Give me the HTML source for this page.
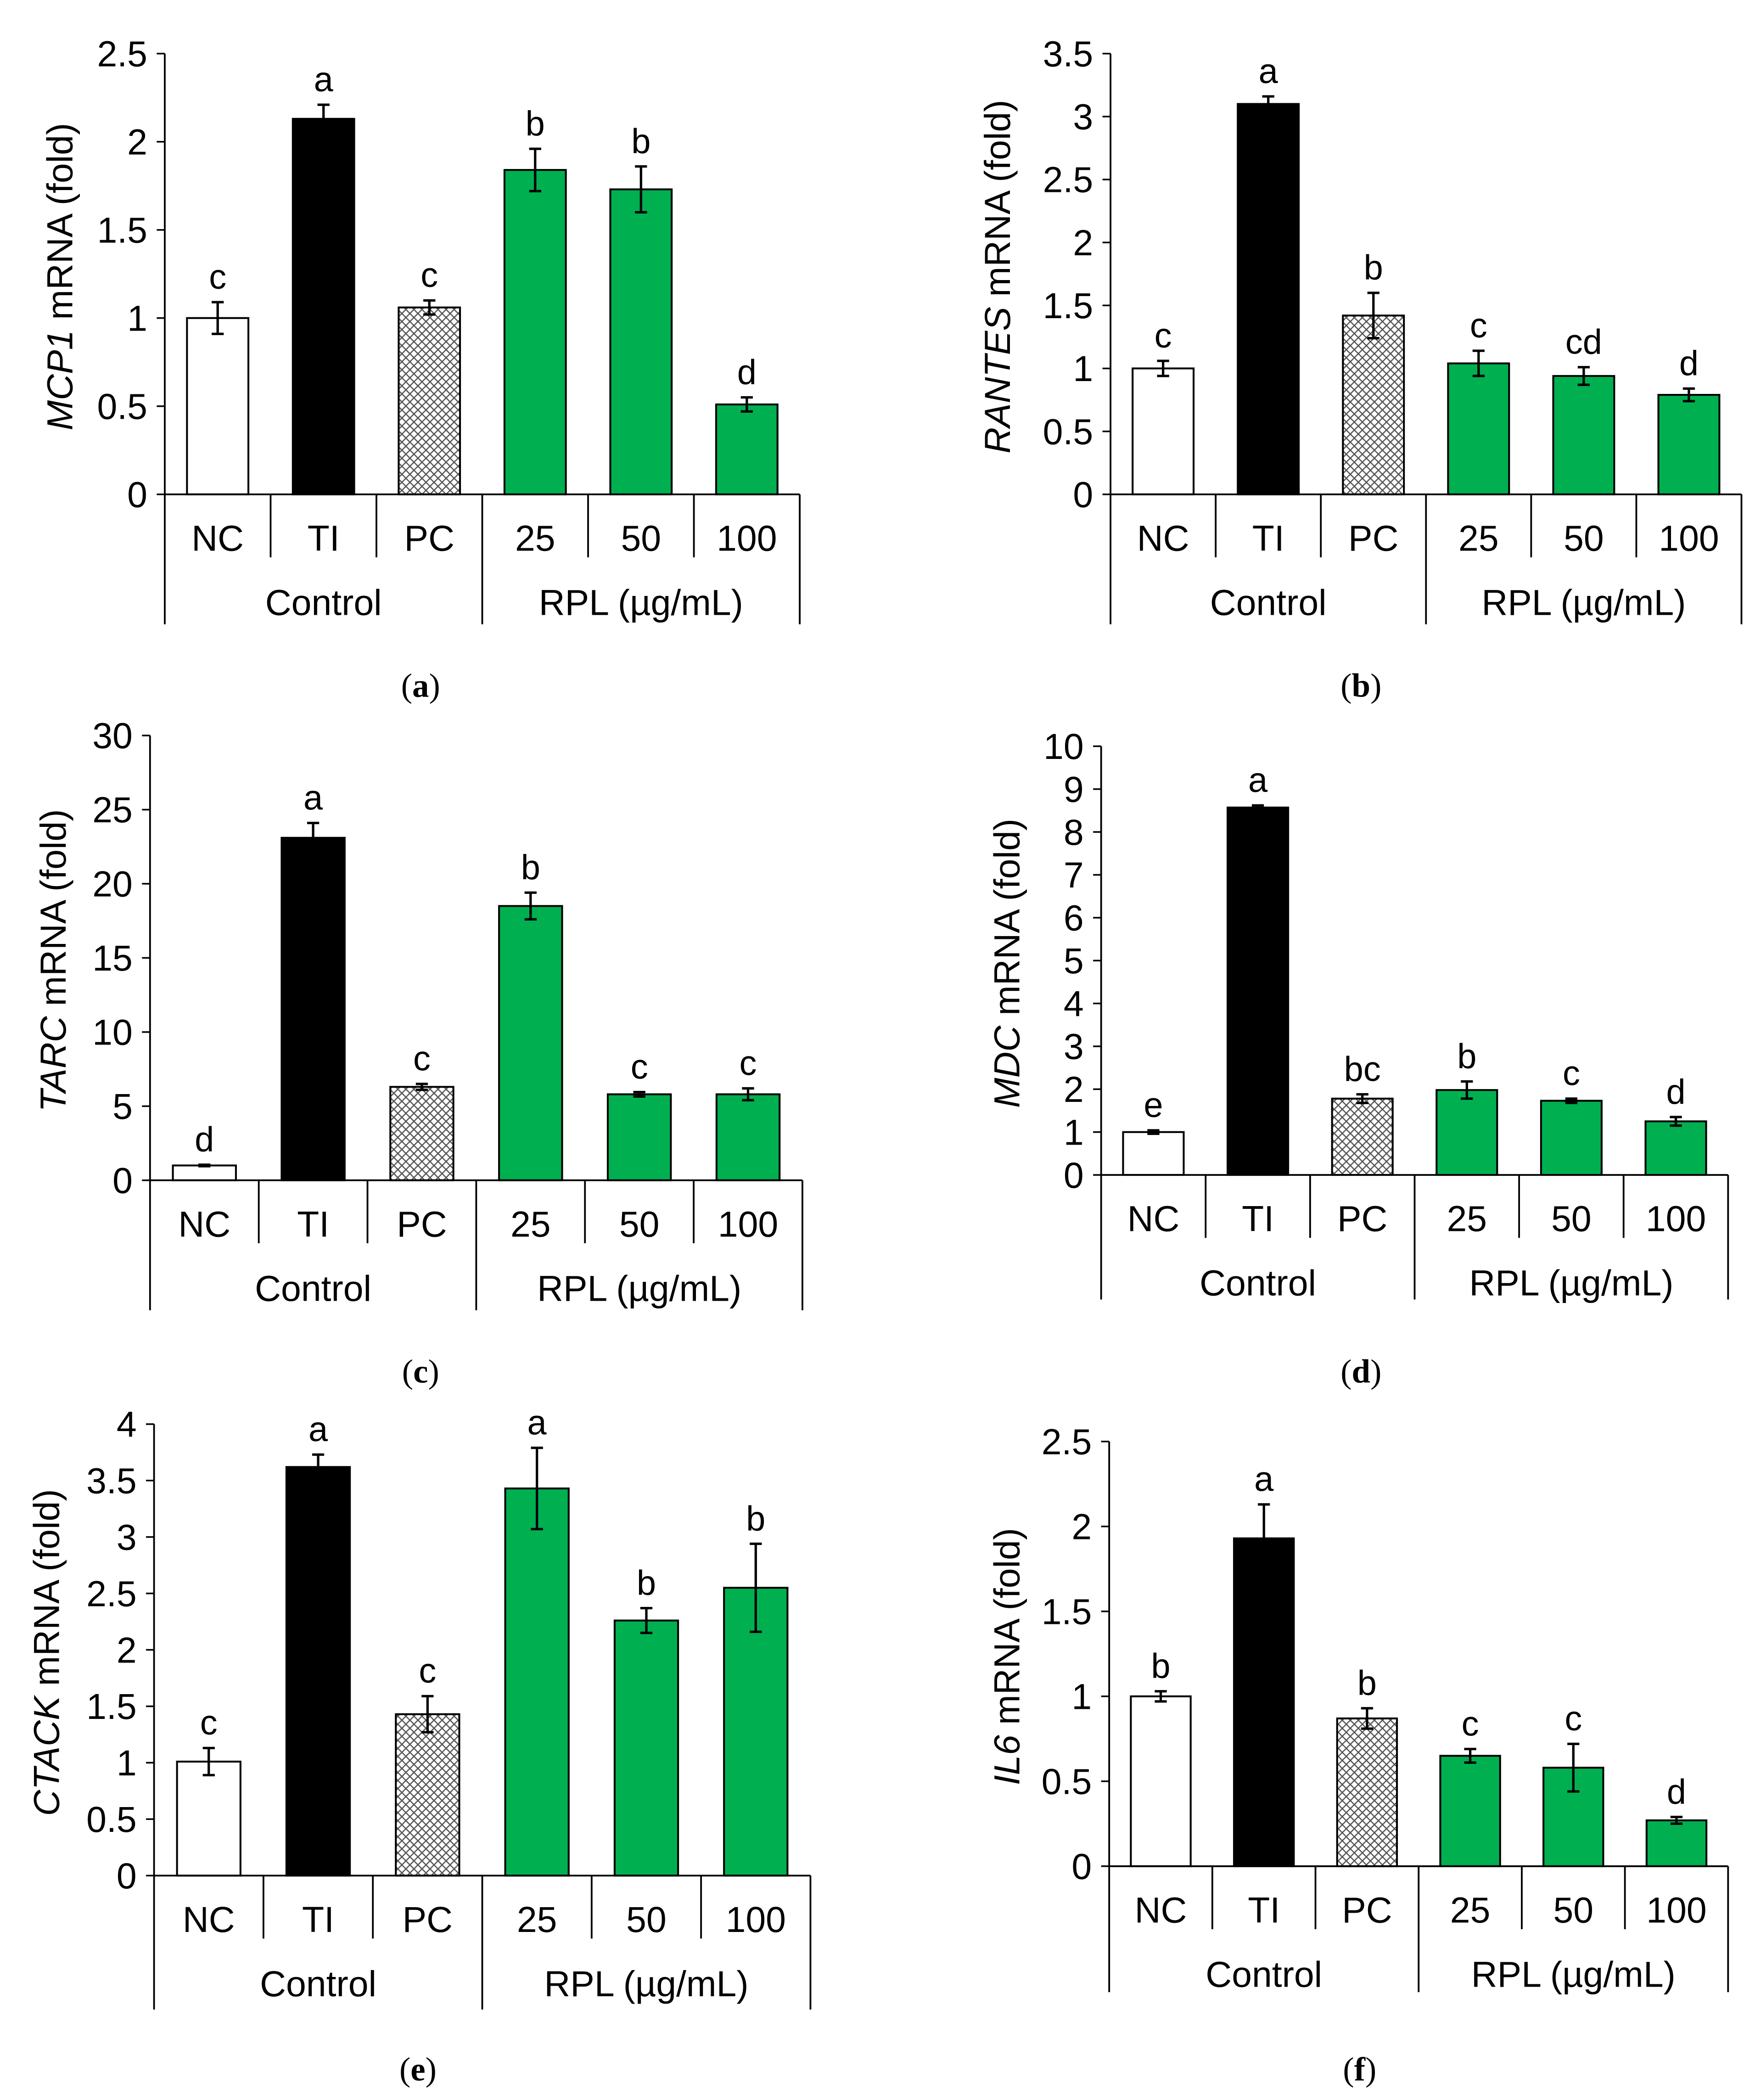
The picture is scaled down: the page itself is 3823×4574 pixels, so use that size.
<!DOCTYPE html>
<html><head><meta charset="utf-8"><style>
html,body{margin:0;padding:0;background:#fff;}
svg{display:block;}
text{font-family:"Liberation Sans",Arial,sans-serif;fill:#000;}
.cap{font-family:"Liberation Serif","Times New Roman",serif;}
</style></head><body>
<svg id="fig" width="3823" height="4574" viewBox="0 0 1310.1 1567.5" preserveAspectRatio="none" xmlns="http://www.w3.org/2000/svg">
<defs>
<pattern id="hatch" width="6" height="6" patternUnits="userSpaceOnUse">
<rect width="6" height="6" fill="#fff"/>
<path d="M0,0 L6,6 M6,0 L0,6" stroke="#555" stroke-width="0.9"/>
</pattern>
</defs>
</svg>
<script>
const categories=["NC","TI","PC","25","50","100"];
const groupLabels=["Control","RPL (µg/mL)"];
const valuesA=[1.0,2.13,1.06,1.84,1.73,0.51];
const errorsA=[0.09,0.08,0.04,0.12,0.13,0.04];
const lettersA=["c","a","c","b","b","d"];
const ticksA=[0,0.5,1,1.5,2,2.5];
const valuesB=[1.0,3.1,1.42,1.04,0.94,0.79];
const errorsB=[0.06,0.06,0.18,0.1,0.07,0.05];
const lettersB=["c","a","b","c","cd","d"];
const ticksB=[0,0.5,1,1.5,2,2.5,3,3.5];
const valuesC=[1.0,23.1,6.3,18.5,5.8,5.8];
const errorsC=[0.05,1.0,0.2,0.9,0.15,0.4];
const lettersC=["d","a","c","b","c","c"];
const ticksC=[0,5,10,15,20,25,30];
const valuesD=[1.0,8.57,1.78,1.98,1.73,1.25];
const errorsD=[0.04,0.05,0.1,0.2,0.05,0.1];
const lettersD=["e","a","bc","b","c","d"];
const ticksD=[0,1,2,3,4,5,6,7,8,9,10];
const valuesE=[1.01,3.62,1.43,3.43,2.26,2.55];
const errorsE=[0.12,0.11,0.16,0.36,0.11,0.39];
const lettersE=["c","a","c","a","b","b"];
const ticksE=[0,0.5,1,1.5,2,2.5,3,3.5,4];
const valuesF=[1.0,1.93,0.87,0.65,0.58,0.27];
const errorsF=[0.03,0.2,0.06,0.04,0.14,0.02];
const lettersF=["b","a","b","c","c","d"];
const ticksF=[0,0.5,1,1.5,2,2.5];

const NS="http://www.w3.org/2000/svg";
const svg=document.getElementById('fig');
function mk(tag,attrs,parent,text){const e=document.createElementNS(NS,tag);for(const k in attrs)e.setAttribute(k,attrs[k]);if(text!==undefined)e.textContent=text;(parent||svg).appendChild(e);return e;}
const fills=["#fff","#000","url(#hatch)","#00B050","#00B050","#00B050"];

const panels=[
 {id:"a",gene:"MCP1",vals:valuesA,errs:errorsA,lets:lettersA,ticks:ticksA,x0:123,x1:597,yTop:40,y0:369,bottom:466,titleX:45,capX:314,capY:512},
 {id:"b",gene:"RANTES",vals:valuesB,errs:errorsB,lets:lettersB,ticks:ticksB,x0:829,x1:1300,yTop:40,y0:369,bottom:466,titleX:745,capX:1016,capY:512},
 {id:"c",gene:"TARC",vals:valuesC,errs:errorsC,lets:lettersC,ticks:ticksC,x0:112,x1:599,yTop:549,y0:881,bottom:978,titleX:40,capX:314,capY:1024},
 {id:"d",gene:"MDC",vals:valuesD,errs:errorsD,lets:lettersD,ticks:ticksD,x0:822,x1:1290,yTop:557,y0:877,bottom:970,titleX:752,capX:1016,capY:1024},
 {id:"e",gene:"CTACK",vals:valuesE,errs:errorsE,lets:lettersE,ticks:ticksE,x0:115,x1:605,yTop:1063,y0:1400,bottom:1500,titleX:35,capX:312,capY:1545},
 {id:"f",gene:"IL6",vals:valuesF,errs:errorsF,lets:lettersF,ticks:ticksF,x0:828,x1:1290,yTop:1076,y0:1393,bottom:1487,titleX:752,capX:1015,capY:1545}
];

panels.forEach(p=>{
 const g=mk('g',{});
 
 
 const ymax=p.ticks[p.ticks.length-1];
 const yS=v=>p.y0-(v/ymax)*(p.y0-p.yTop);
 const bw=(p.x1-p.x0)/categories.length;
 const xC=i=>p.x0+bw*(i+0.5);
 const ax=mk('line',{x1:p.x0,y1:p.yTop,x2:p.x0,y2:p.bottom,stroke:'#000','stroke-width':1.3},g);
 
 
 p.ticks.forEach(t=>{
  mk('line',{x1:p.x0-6,y1:yS(t),x2:p.x0,y2:yS(t),stroke:'#000','stroke-width':1.2},g);
  const tl=mk('text',{x:p.x0-13,y:yS(t)+9.5,'text-anchor':'end','font-size':27},g,String(t));
  
  
 });
 p.vals.forEach((v,i)=>{
  const w=bw*0.58;
  const r=mk('rect',{x:xC(i)-w/2,y:yS(v),width:w,height:p.y0-yS(v),fill:fills[i],stroke:'#000','stroke-width':1.4},g);
  
  
  const e=p.errs[i];
  const eg=mk('g',{stroke:'#000','stroke-width':1.8},g);
  
  
  mk('line',{x1:xC(i),y1:yS(v+e),x2:xC(i),y2:yS(v-e)},eg);
  mk('line',{x1:xC(i)-4.5,y1:yS(v+e),x2:xC(i)+4.5,y2:yS(v+e)},eg);
  mk('line',{x1:xC(i)-4.5,y1:yS(v-e),x2:xC(i)+4.5,y2:yS(v-e)},eg);
  const lt=mk('text',{x:xC(i),y:yS(v+e)-10,'text-anchor':'middle','font-size':26},g,p.lets[i]);
  
  
  const cl=mk('text',{x:xC(i),y:p.y0+42,'text-anchor':'middle','font-size':27},g,categories[i]);
  
  
 });
 mk('line',{x1:p.x0,y1:p.y0,x2:p.x1,y2:p.y0,stroke:'#000','stroke-width':1.3},g);
 for(let i=1;i<=6;i++){
  const x=p.x0+bw*i;
  const full=(i===3||i===6);
  mk('line',{x1:x,y1:p.y0,x2:x,y2:full?p.bottom:p.y0+47,stroke:'#000','stroke-width':1.3},g);
 }
 groupLabels.forEach((gl,k)=>{
  const t=mk('text',{x:p.x0+bw*(1.5+3*k),y:p.y0+90,'text-anchor':'middle','font-size':27},g,gl);
  
  
 });
 const cy=(p.yTop+p.y0)/2;
 const yt=mk('text',{x:0,y:0,'text-anchor':'middle','font-size':27,transform:`translate(${p.titleX+9},${cy+2}) rotate(-90)`},g);
 
 
 mk('tspan',{'font-style':'italic'},yt,p.gene);
 mk('tspan',{},yt,' mRNA (fold)');
 const cp=mk('text',{x:p.capX,y:p.capY+8,'text-anchor':'middle','font-size':25,class:'cap'},g);
 
 
 mk('tspan',{},cp,'(');
 mk('tspan',{'font-weight':'bold'},cp,p.id);
 mk('tspan',{},cp,')');
});
</script>
</body></html>
